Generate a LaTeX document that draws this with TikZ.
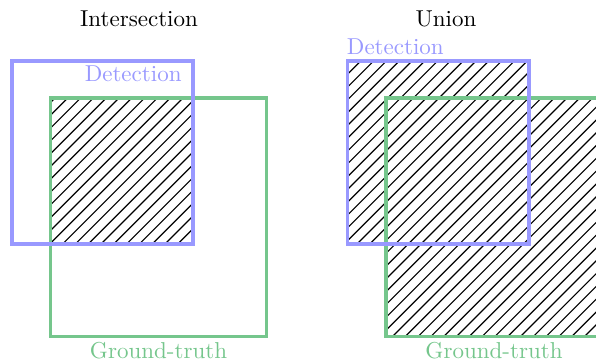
\documentclass[tikz,border=0pt]{standalone}
\definecolor{detblue}{RGB}{153,153,255}
\definecolor{gtgreen}{RGB}{117,198,140}
\tikzset{
  detbox/.style={draw=detblue, line width=1.5pt},
  gtbox/.style={draw=gtgreen, line width=1.5pt},
  hatchline/.style={draw=black, line width=0.5pt},
  detlabel/.style={text=detblue, inner sep=0pt},
  gtlabel/.style={text=gtgreen, inner sep=0pt},
  title/.style={inner sep=0pt, anchor=base}
}
\newcommand{\myhatch}{%
  \foreach \k in {0,...,80} {
    \pgfmathsetmacro{\cc}{1.0*\k*12.8+12.2}
    \draw[hatchline] (\cc,0) -- ({\cc-500},500);
  }}
\begin{document}
\begin{tikzpicture}[x=0.4348pt, y=-0.4348pt]
\useasboundingbox (0,0) rectangle (596,363);
% ---------- Intersection ----------
\coordinate (d1a) at (12,61);
\coordinate (d1b) at (193,244);
\coordinate (g1a) at (50.5,98);
\coordinate (g1b) at (266.5,336.5);
\begin{scope}
  \clip (d1a) rectangle (d1b);
  \clip (g1a) rectangle (g1b);
  \myhatch
\end{scope}
\draw[gtbox] (g1a) rectangle (g1b);
\draw[detbox] (d1a) rectangle (d1b);
\node[title] (t1) at (139,26.5) {Intersection};
\node[detlabel, anchor=base east] (dl1) at (182,81.5) {Detection};
\node[gtlabel, anchor=base] (gl1) at (158.5,358) {Ground-truth};
% ---------- Union ----------
\coordinate (d2a) at (347.5,61);
\coordinate (d2b) at (529,244);
\coordinate (g2a) at (386,98);
\coordinate (g2b) at (602,336.5);
\begin{scope}
  \clip (d2a) rectangle (d2b) (g2a) rectangle (g2b);
  \myhatch
\end{scope}
\draw[gtbox] (g2a) rectangle (g2b);
\draw[detbox] (d2a) rectangle (d2b);
\node[title] (t2) at (446,26.5) {Union};
\node[detlabel, anchor=base west] (dl2) at (346.5,55) {Detection};
\node[gtlabel, anchor=base] (gl2) at (494,358) {Ground-truth};
\end{tikzpicture}
\end{document}
